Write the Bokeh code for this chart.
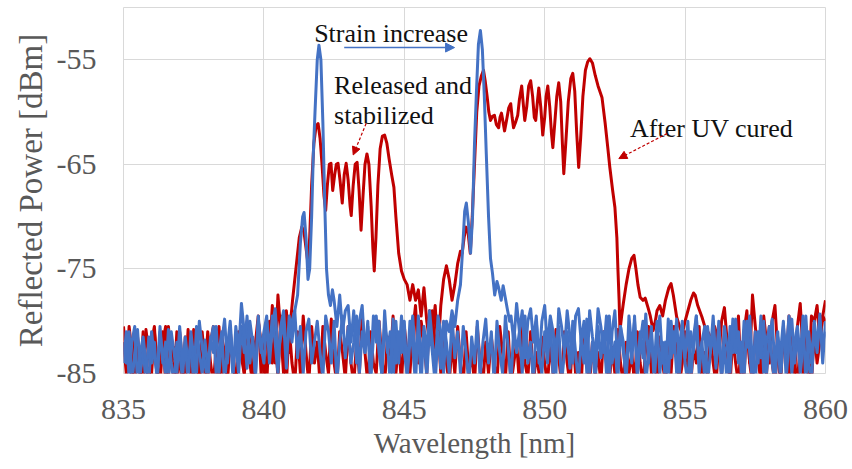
from bokeh.plotting import figure
from bokeh.models import Label, Arrow, NormalHead, Range1d
from bokeh.embed import file_html
from bokeh.resources import INLINE

# ---------------- data ----------------
# sampling grid of the noise floor (nm), 835.0 ... 860.0 every 0.1 nm
GRID = [round(835 + 0.1 * i, 1) for i in range(251)]

x_ticks = [835, 840, 845, 850, 855, 860]
y_ticks = [-85, -75, -65, -55]
y_tick_labels = ["-85", "-75", "-65", "-55"]

# --- blue spectrum A (peak near 842 nm) ---
blue_a_noise = [
    -82, -84, -81, -86, -83, -80.8, -85, -82.5, -86, -81.5,
    -84, -82, -86, -81, -83.5, -85, -80.8, -84, -86, -82,
    -83, -85.5, -81.5, -84, -82, -86, -80.5, -83, -85, -81.8,
    -84.5, -82, -80.5, -85, -83, -81, -86, -82.5, -80, -84,
    -82, -85, -80.5, -83, -79.5, -84, -81.5, -85.5, -80, -82.5,
    -84, -80, -83, -79.5, -82, -85, -80.5, -79, -83, -81,
    None, None, None, None, None, None, None, None, None, None,
    None, None, None, None, None, -78, -80.5, -77.5, -81, -79,
    -78.5, -82, -79, -84, -80, -78.5, -83, -80.5, -85, -79.5,
    -82, -80, -85.5, -79, -83, -81, -86, -80, -84, -79.5,
    -83, -85, -80, -82.5, -86, -79.5, -84, -81, -85.5, -80.5,
    -83, -86, -81, -84.5, -80, -82, -85, -79.5, -83.5, -81,
    -85, -80.5, -83, -86, -81.5, -84, -80, -85.5, -82, -79.8,
    -84, -81, -86, -80, -83, -85, -79.5, -82.5, -86, -80.5,
    -83, -81, -85, -79.5, -84, -82, -86, -80, -83.5, -85,
    -81, -84, -79.8, -85.5, -82, -80.5, -86, -83, -81, -84.5,
    -80, -83, -86, -81.5, -84, -79.8, -85, -82, -86, -80.5,
    -83.5, -81, -85, -79.5, -84, -82, -86, -80.5, -83, -85,
    -81, -84, -79.5, -85.5, -82, -80, -86, -83, -81.5, -84.5,
    -80, -85, -82, -86, -79.8, -83.5, -81, -85, -82.5, -80,
    -84, -86, -81, -83, -79.5, -85, -82, -80.5, -86, -83,
    -81, -84.5, -80, -85, -82.5, -86, -80.5, -83, -79.8, -84,
    -82, -85.5, -80, -83, -86, -81, -84, -79.5, -85, -82,
    -80.5, -84, -86, -81.5, -83, -80, -85.5, -82, -79.8, -84,
    -81, -85, -82.5, -79.5, -84, -86, -80.5, -83, -80, -82,
    -81,
]
blue_a_peak_wl = [841.0, 841.1, 841.2, 841.3, 841.38, 841.43, 841.5, 841.57, 841.63,
                  841.7, 841.76, 841.82, 841.9, 841.96, 842.03, 842.1, 842.17, 842.23,
                  842.3, 842.37, 842.44]
blue_a_peak_dbm = [-80, -79, -77.5, -72.5, -70, -69.6, -72, -76, -75,
                   -70, -64, -60, -55, -53.6, -55, -61, -69, -75,
                   -77.5, -78.5, -77]

# --- blue spectrum B (peak near 847.7 nm) ---
blue_b_noise = [
    -84, -81, -85.5, -82, -80.5, -86, -83, -81.5, -84, -86,
    -81, -83.5, -85, -80.5, -84, -82, -86, -81, -83, -85,
    -80.5, -84, -82, -86, -81, -83.5, -85, -80, -82.5, -84,
    -86, -81.5, -83, -80.5, -85, -82, -79.8, -84, -81, -85.5,
    -80.5, -83, -78.3, -81, -84.5, -80, -82, -85, -79.5, -83,
    -81, -79.5, -84, -80.5, -78.8, -83, -81.5, -80, -84.5, -79.5,
    -82, -79, -83.5, -80.5, -85, -81, -79.8, -84, -82, -80,
    -83, -85.5, -79.5, -81, -84, -80, -86, -82, -79.5, -83.5,
    -80.5, -84, -82, -79.5, -85, -81, -83, -80, -86, -81.5,
    -79.5, -83, -85, -80.5, -82, -86, -79.8, -84, -81, -83,
    -80, -85.5, -82, -79.5, -84, -81, -86, -80.5, -83, -79,
    -82, -84.5, -79.5, -81, -85, -80, None, None, None, None,
    None, None, None, None, None, None, None, None, None, None,
    None, None, None, None, None, None, None, None, -79.5, -82,
    -78.3, -81, -79, -83.5, -80, -78.8, -82, -79.5, -84, -80,
    -78.5, -82.5, -79.5, -81, -85, -78.8, -80.5, -83, -79, -81.5,
    -84, -79.5, -78.8, -82, -80, -85, -79, -81.5, -83.5, -78.8,
    -80.5, -83, -79.5, -85.5, -81, -79, -84, -80.5, -82, -86,
    -79.5, -82.5, -80, -85, -81, -83.5, -79.3, -84, -80.5, -86,
    -81.5, -79.5, -84, -82, -86, -80, -83, -79.8, -85, -81,
    -83.5, -80, -86, -81.5, -79.5, -84, -82, -85.5, -80.5, -83,
    -79.5, -84, -81, -86, -80.5, -82.5, -85, -79.8, -83, -81,
    -85, -80, -82.5, -79.5, -84, -86, -81, -83.5, -80, -85,
    -82, -79.8, -84.5, -81, -86, -80.5, -83, -79.5, -85, -82,
    -80.5, -83.5, -79.5, -86, -81, -84, -80, -82.5, -79.3, -84,
    -80,
]
blue_b_peak_wl = [846.6, 846.7, 846.8, 846.9, 847.0, 847.08, 847.15, 847.21, 847.28,
                  847.36, 847.43, 847.5, 847.57, 847.64, 847.71, 847.78, 847.85, 847.92,
                  848.0, 848.07, 848.14, 848.22, 848.3, 848.36, 848.45, 848.52, 848.6,
                  848.68, 848.75]
blue_b_peak_dbm = [-81, -79, -80.5, -78, -76.5, -73, -69.5, -68.7, -70.5,
                   -73.5, -70, -63, -58, -53.5, -52.2, -54, -58.5, -64,
                   -70, -74, -75.4, -77.5, -76.2, -76.8, -78, -76.6, -77.8,
                   -79, -80]

# --- red spectrum "Released and stabilized" ---
red_rel_noise = [
    -80.5, -84, -82, -86, -80.8, -83, -85.5, -81, -84, -86,
    -82, -80.5, -85, -83, -81, -86, -80.5, -84, -82.5, -86,
    -81, -84, -86, -80.8, -83.5, -85, -82, -86, -81, -84,
    -85.5, -82, -80.5, -84, -86, -81.5, -83, -85, -80.8, -84,
    -86, -82.5, -80.5, -85, -83, -81, -86, -84, -80, -82,
    -85, -80.5, -83, -78.5, -84, -77.5, -81, -85, -79, -83,
    None, None, None, None, None, None, None, None, None, None,
    None, None, None, None, None, None, None, None, None, None,
    None, None, None, None, None, None, None, None, None, None,
    None, None, None, None, None, None, None, None, None, None,
    None, None, None, None, -78, -77, -79.5, -76.8, -80, -82,
    -79, -83, -80.5, -85, -81, -84, -86, -82, -85, -80.5,
    -84, -86, -81, -85, -83, -86, -80.5, -84, -86, -82,
    -85, -81.5, -84, -86, -80.5, -83, -85.5, -81, -86, -84,
    -82, -86, -80.5, -84, -85.5, -81, -86, -83, -85, -81.5,
    -84, -86, -82, -85, -80.8, -83.5, -86, -81, -84, -86,
    -81.5, -85, -83, -86, -80.5, -84, -86, -82, -85, -83,
    -86, -81, -84, -86, -82.5, -85, -80.8, -84, -86, -82,
    -85, -83, -86, -81, -84, -86, -82.5, -80.5, -85, -83,
    -86, -81.5, -84, -86, -82, -85, -80.5, -83, -86, -84,
    -81, -85, -86, -82.5, -84, -80.5, -86, -83, -85, -81.5,
    -84, -86, -82, -85, -80.8, -83, -86, -81.5, -84, -86,
    -82, -85, -80.5, -84, -86, -81, -83.5, -86, -82, -85,
    -80.5, -84, -86, -82, -85, -81, -83, -86, -80.8, -84,
    -86, -82, -85, -80.5, -83.5, -86, -81, -84, -82, -79.5,
    -80,
]
red_rel_peak_wl = [840.95, 841.02, 841.1, 841.18, 841.26, 841.35, 841.42, 841.5, 841.57,
                   841.63, 841.7, 841.78, 841.86, 841.93, 842.0, 842.07, 842.14, 842.2,
                   842.26, 842.33, 842.39, 842.45, 842.52, 842.58, 842.64, 842.71, 842.79,
                   842.86, 842.93, 843.0, 843.07, 843.11, 843.18, 843.25, 843.32, 843.39,
                   843.46, 843.53, 843.6, 843.67, 843.74, 843.82, 843.88, 843.93, 843.99,
                   844.06, 844.14, 844.22, 844.3, 844.38, 844.46, 844.55, 844.63, 844.7,
                   844.8, 844.9, 845.0, 845.1, 845.2, 845.3]
red_rel_peak_dbm = [-80, -78, -76, -74, -72, -71, -71.3, -73, -74.5,
                    -72, -67, -63, -61.3, -61.1, -62.5, -65, -68, -69.4,
                    -67, -65, -64.9, -67.5, -66, -65, -64.9, -66.5, -68.7,
                    -66, -64.9, -66.5, -69, -69.9, -67, -65, -64.8, -67.5,
                    -71.3, -68, -65, -64, -65, -69, -73, -75.2, -72,
                    -67, -63.5, -62.3, -62.2, -63, -64.5, -66, -67.2, -70,
                    -73.5, -75.2, -76, -76.5, -78, -76.5]

# --- red spectrum "After UV cured" ---
red_uv_noise = [
    -82, -85, -80.5, -83, -86, -81.5, -84, -86, -80.8, -83,
    -85, -81, -84, -86, -82, -80.5, -85, -83, -86, -81,
    -84, -86, -81.5, -83, -85, -80.8, -84, -86, -82, -85,
    -81, -84, -86, -82.5, -80.5, -85, -83, -86, -81.5, -84,
    -86, -81, -83.5, -85, -80, -84, -86, -82, -79.5, -85,
    -82, -86, -80, -84, -81, -85.5, -79.5, -83, -86, -80.5,
    -84, -86, -81, -85, -79.5, -83, -86, -80.5, -84, -82,
    -86, -80.5, -83, -85, -79.8, -84, -86, -81, -83, -85.5,
    -80.5, -84, -86, -82, -85, -79.5, -83, -86, -81, -84,
    -85, -80, -83.5, -86, -81.5, -84, -79.5, -85, -82, -86,
    -80.5, -83, -85, -81, -78.5, -84, -80, -82, -85, -79,
    -81, -78.5, -83, None, None, None, None, None, None, None,
    None, None, None, None, None, None, None, None, None, None,
    None, None, None, None, None, None, None, None, None, None,
    None, None, None, None, None, None, None, None, None, None,
    None, None, None, None, None, None, None, None, None, None,
    None, None, None, None, None, None, None, None, None, None,
    None, None, None, None, None, None, None, None, None, None,
    None, None, None, None, None, None, None, None, None, None,
    None, None, None, None, None, None, None, None, None, None,
    None, None, None, None, None, None, None, None, None, None,
    None, -81, -83.5, -80, -78.7, -82, -85, -80.5, -83, -79.5,
    -86, -81, -79, -84, -77.5, -80.5, -83, -85, -79.5, -82,
    -84, -80, -78.5, -83, -86, -81, -84, -79.5, -82, -85,
    -80.5, -78.3, -83, -81, -86, -79.5, -80, -78.5, -82, -79.5,
    -78,
]
red_uv_peak_wl = [846.3, 846.4, 846.5, 846.6, 846.7, 846.8, 846.9, 847.0, 847.06,
                  847.13, 847.2, 847.27, 847.35, 847.42, 847.5, 847.58, 847.66, 847.75,
                  847.82, 847.88, 847.95, 848.01, 848.07, 848.14, 848.21, 848.28, 848.36,
                  848.41, 848.46, 848.52, 848.57, 848.64, 848.72, 848.79, 848.84, 848.89,
                  848.96, 849.04, 849.1, 849.18, 849.23, 849.29, 849.36, 849.43, 849.5,
                  849.57, 849.63, 849.68, 849.74, 849.79, 849.86, 849.93, 850.0, 850.05,
                  850.11, 850.18, 850.24, 850.29, 850.36, 850.43, 850.5, 850.57, 850.63,
                  850.68, 850.75, 850.84, 850.93, 851.0, 851.07, 851.14, 851.21, 851.28,
                  851.36, 851.45, 851.53, 851.61, 851.7, 851.8, 851.9, 852.04, 852.15,
                  852.25, 852.32, 852.42, 852.5, 852.57, 852.61, 852.65, 852.68, 852.74,
                  852.8, 852.9, 853.0, 853.1, 853.18, 853.25, 853.32, 853.4, 853.5,
                  853.58, 853.68, 853.76, 853.86, 853.94, 854.0, 854.1, 854.2, 854.3,
                  854.42, 854.5, 854.58, 854.7, 854.8, 854.9, 855.0, 855.1, 855.2,
                  855.3, 855.36, 855.45, 855.6, 855.7, 855.85, 855.95, 856.05]
red_uv_peak_dbm = [-78.5, -76, -74.7, -76, -78, -76.5, -74.5, -73.3, -73.5,
                   -72, -71, -71.5, -73.5, -70, -65, -60, -57.5, -56.5,
                   -56, -57, -58.5, -60, -60.8, -60.4, -60.3, -61.2, -61.5,
                   -60.5, -60.1, -61, -61.8, -60.8, -59.6, -59.2, -60.5, -61.5,
                   -61, -60.3, -58.8, -57.5, -59, -60.8, -59.5, -57.5, -57,
                   -58.5, -60.5, -60.8, -59, -57.7, -59.5, -62.2, -60.5, -58.5,
                   -57.5, -59.5, -62, -63.4, -61, -58.5, -57.2, -59, -63,
                   -65.9, -63, -59, -56.8, -56.3, -58, -62, -65.3, -62.5,
                   -58.5, -56, -55.2, -54.9, -55.3, -56.5, -57.5, -58.6, -61,
                   -63.5, -65.3, -67.5, -69.1, -72, -75.2, -78, -80.9, -79.5,
                   -78.3, -76.5, -75, -74, -73.7, -75, -76.5, -77.7, -78,
                   -77.8, -78.7, -79.5, -80.9, -80, -79, -78.5, -79.5, -78,
                   -76.8, -76.4, -77.5, -79.6, -80.5, -81.2, -80, -79, -78,
                   -77.3, -77.5, -78.5, -79.6, -80.5, -81.2, -82, -80.5]


def build(noise, peak_wl, peak_dbm):
    pts = [(GRID[i], v) for i, v in enumerate(noise) if v is not None]
    pts += list(zip(peak_wl, peak_dbm))
    pts.sort()
    return [a for a, _ in pts], [b for _, b in pts]


RED = "#C00000"
BLUE = "#4472C4"
GRID_COL = "#D9D9D9"
TXT = "#595959"
FONT = "Liberation Serif"

p = figure(frame_width=702, frame_height=366, output_backend="svg", toolbar_location=None,
           x_range=Range1d(835, 860), y_range=Range1d(-85, -50),
           min_border_left=123, min_border_right=24, min_border_top=7,
           min_border_bottom=20)
p.background_fill_color = "white"
p.border_fill_color = "white"
p.outline_line_color = GRID_COL
p.outline_line_width = 1

for noise, wl, db, col in [
    (red_rel_noise, red_rel_peak_wl, red_rel_peak_dbm, RED),
    (red_uv_noise, red_uv_peak_wl, red_uv_peak_dbm, RED),
    (blue_a_noise, blue_a_peak_wl, blue_a_peak_dbm, BLUE),
    (blue_b_noise, blue_b_peak_wl, blue_b_peak_dbm, BLUE),
]:
    xs, ys = build(noise, wl, db)
    p.line(xs, ys, line_color=col, line_width=3, line_join="round")

p.xaxis.ticker = x_ticks
p.yaxis.ticker = y_ticks
p.yaxis.major_label_overrides = dict(zip(y_ticks, y_tick_labels))
for ax in (p.xaxis[0], p.yaxis[0]):
    ax.axis_line_color = None
    ax.major_tick_line_color = None
    ax.minor_tick_line_color = None
    ax.major_tick_in = 0
    ax.major_tick_out = 0
    ax.major_label_text_font = FONT
    ax.major_label_text_font_size = "30px"
    ax.major_label_text_color = TXT
    ax.axis_label_text_font = FONT
    ax.axis_label_text_font_style = "normal"
    ax.axis_label_text_color = TXT

p.xaxis.axis_label = "Wavelength [nm]"
p.xaxis.axis_label_text_font_size = "29px"
p.xaxis.major_label_standoff = 26
p.xaxis.axis_label_standoff = 5
p.yaxis.axis_label = "Reflected Power [dBm]"
p.yaxis.axis_label_text_font_size = "33px"
p.yaxis.major_label_standoff = 27
p.yaxis.axis_label_standoff = 5

p.xgrid.grid_line_color = GRID_COL
p.ygrid.grid_line_color = GRID_COL
p.xgrid.grid_line_width = 1
p.ygrid.grid_line_width = 1


def label(x, y, t):
    p.add_layout(Label(x=x, y=y, text=t, text_font=FONT, text_font_size="26px",
                       text_color="#111111", text_baseline="alphabetic"))


label(841.79, -52.5, "Strain increase")
label(842.5, -57.47, "Released and")
label(842.5, -60.33, "stabilized")
label(853.04, -61.58, "After UV cured")

p.add_layout(Arrow(end=NormalHead(size=9, fill_color=BLUE, line_color=BLUE),
                   x_start=842.86, y_start=-53.83, x_end=846.79, y_end=-53.83,
                   line_color=BLUE, line_width=1.5))
p.add_layout(Arrow(end=NormalHead(size=8, fill_color=RED, line_color=RED),
                   x_start=843.64, y_start=-61.1, x_end=843.18, y_end=-64.1,
                   line_color=RED, line_width=1.2, line_dash="3 2"))
p.add_layout(Arrow(end=NormalHead(size=8, fill_color=RED, line_color=RED),
                   x_start=854.36, y_start=-62.05, x_end=852.64, y_end=-64.45,
                   line_color=RED, line_width=1.2, line_dash="3 2"))

open("out.html", "w").write(file_html(p, INLINE))
